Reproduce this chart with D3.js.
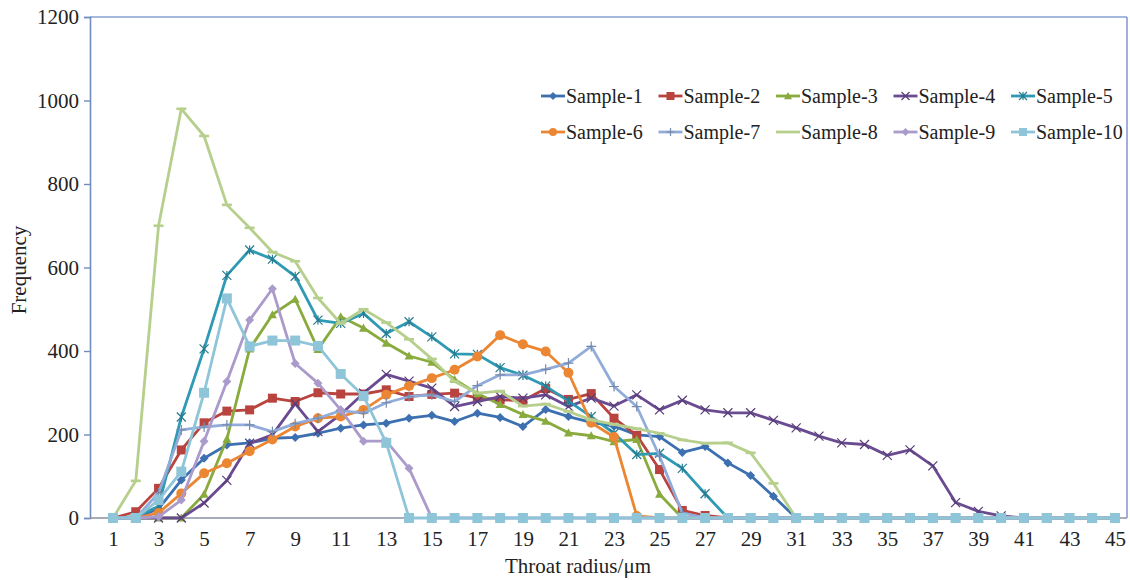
<!DOCTYPE html>
<html>
<head>
<meta charset="utf-8">
<script src="https://cdn.jsdelivr.net/npm/d3@7"></script>
<style>
  html, body { margin: 0; padding: 0; background: #fff; }
  svg text { font-family: "Liberation Serif", "Times New Roman", serif; fill: #222; }
</style>
</head>
<body>
<svg id="chart" width="1130" height="580"></svg>
<script>
// Throat radius categories (µm)
const radii = d3.range(1, 46);
const xTickLabels = d3.range(1, 46, 2);
const yTicks = [0, 200, 400, 600, 800, 1000, 1200];

const seriesNames = ["Sample-1", "Sample-2", "Sample-3", "Sample-4", "Sample-5",
                     "Sample-6", "Sample-7", "Sample-8", "Sample-9", "Sample-10"];

// Frequency per throat radius, 1..45 µm
const sample1 = [0, 0, 22, 91, 143, 175, 180, 191, 193, 203, 215, 223, 227, 239, 246, 231, 251, 241, 219, 260, 243, 229, 220, 199, 195, 157, 171, 132, 102, 52, 0, 0, 0, 0, 0, 0, 0, 0, 0, 0, 0, 0, 0, 0, 0];
const sample2 = [0, 15, 71, 163, 228, 256, 259, 287, 279, 300, 297, 297, 307, 291, 296, 299, 288, 283, 281, 310, 284, 298, 239, 198, 116, 18, 6, 0, 0, 0, 0, 0, 0, 0, 0, 0, 0, 0, 0, 0, 0, 0, 0, 0, 0];
const sample3 = [0, 0, 0, 0, 57, 189, 405, 487, 524, 404, 482, 455, 419, 388, 373, 332, 298, 272, 248, 232, 204, 197, 183, 188, 57, 0, 0, 0, 0, 0, 0, 0, 0, 0, 0, 0, 0, 0, 0, 0, 0, 0, 0, 0, 0];
const sample4 = [0, 0, 0, 0, 36, 90, 179, 199, 274, 207, 248, 299, 344, 328, 311, 267, 279, 291, 287, 295, 267, 287, 268, 295, 259, 282, 259, 252, 252, 234, 216, 196, 180, 176, 150, 163, 125, 37, 16, 5, 0, 0, 0, 0, 0];
const sample5 = [0, 3, 28, 242, 405, 581, 642, 620, 579, 474, 466, 490, 442, 470, 434, 393, 392, 360, 342, 316, 280, 243, 203, 152, 155, 119, 58, 0, 0, 0, 0, 0, 0, 0, 0, 0, 0, 0, 0, 0, 0, 0, 0, 0, 0];
const sample6 = [0, 0, 12, 59, 107, 131, 160, 188, 219, 239, 243, 259, 295, 316, 335, 355, 387, 438, 416, 399, 348, 228, 194, 5, 0, 0, 0, 0, 0, 0, 0, 0, 0, 0, 0, 0, 0, 0, 0, 0, 0, 0, 0, 0, 0];
const sample7 = [0, 0, 60, 211, 218, 223, 223, 207, 226, 239, 257, 251, 276, 291, 295, 279, 317, 343, 343, 356, 371, 411, 315, 267, 148, 12, 0, 0, 0, 0, 0, 0, 0, 0, 0, 0, 0, 0, 0, 0, 0, 0, 0, 0, 0];
const sample8 = [0, 89, 700, 980, 915, 750, 695, 637, 615, 527, 466, 500, 468, 428, 381, 327, 299, 304, 268, 273, 255, 235, 224, 214, 203, 187, 179, 180, 156, 83, 0, 0, 0, 0, 0, 0, 0, 0, 0, 0, 0, 0, 0, 0, 0];
const sample9 = [0, 0, 3, 43, 184, 327, 474, 549, 370, 323, 259, 184, 184, 119, 0, 0, 0, 0, 0, 0, 0, 0, 0, 0, 0, 0, 0, 0, 0, 0, 0, 0, 0, 0, 0, 0, 0, 0, 0, 0, 0, 0, 0, 0, 0];
const sample10 = [0, 0, 43, 111, 300, 526, 411, 425, 425, 412, 345, 292, 180, 0, 0, 0, 0, 0, 0, 0, 0, 0, 0, 0, 0, 0, 0, 0, 0, 0, 0, 0, 0, 0, 0, 0, 0, 0, 0, 0, 0, 0, 0, 0, 0];

const seriesValues = [sample1, sample2, sample3, sample4, sample5,
                      sample6, sample7, sample8, sample9, sample10];

const colors = ["#3d70b0", "#b8433f", "#89ab3e", "#6a4b91", "#2f9ab3",
                "#eb8633", "#92acd9", "#b6cf8c", "#aa9bcb", "#8fc5d9"];
const markers = ["diamond", "square", "triangle", "x", "star",
                 "circle", "plus", "dash", "diamond", "square"];

const W = 1130, H = 580;
const plot = { left: 90, right: 1127, top: 17, bottom: 518 };

const svg = d3.select("#chart");

const x = d3.scalePoint().domain(radii).range([113, 1115]);
const y = d3.scaleLinear().domain([0, 1200]).range([plot.bottom, plot.top]);

// Plot frame: top and right edges
svg.append("line").attr("x1", plot.left).attr("x2", plot.right)
  .attr("y1", plot.top).attr("y2", plot.top)
  .attr("stroke", "#86a2d2").attr("stroke-width", 1.6);
svg.append("line").attr("x1", plot.right).attr("x2", plot.right)
  .attr("y1", plot.top).attr("y2", plot.bottom)
  .attr("stroke", "#8c99d6").attr("stroke-width", 1.6);

// Y axis
const yAxis = d3.axisLeft(y).tickValues(yTicks).tickSize(6).tickPadding(5)
  .tickFormat(d3.format("d"));
const gy = svg.append("g").attr("transform", `translate(${plot.left},0)`).call(yAxis);
gy.select(".domain").attr("stroke", "#6f8ebf").attr("stroke-width", 1.6);
gy.selectAll(".tick line").attr("stroke", "#6f8ebf").attr("stroke-width", 1.4);
gy.selectAll(".tick text").style("font-size", "21px")
  .style("font-family", "'Liberation Serif', 'Times New Roman', serif").attr("fill", "#222");

// X axis
const xAxis = d3.axisBottom(x).tickValues(xTickLabels).tickSize(0).tickPadding(13);
const gx = svg.append("g").attr("transform", `translate(0,${plot.bottom})`).call(xAxis);
gx.select(".domain").remove();
gx.append("line").attr("x1", plot.left).attr("x2", plot.right)
  .attr("stroke", "#8a90a0").attr("stroke-width", 1.4);
gx.selectAll(".tick text").style("font-size", "21px")
  .style("font-family", "'Liberation Serif', 'Times New Roman', serif").attr("fill", "#222");

// Axis titles
svg.append("text").attr("x", 578).attr("y", 573).attr("text-anchor", "middle")
  .style("font-size", "21px").text("Throat radius/μm");
svg.append("text").attr("transform", "translate(26,270) rotate(-90)")
  .attr("text-anchor", "middle").style("font-size", "21px").text("Frequency");

// Marker shapes
function markerPath(kind, s) {
  const h = s / 2;
  switch (kind) {
    case "diamond": return `M0,${-h}L${h},0L0,${h}L${-h},0Z`;
    case "square": return `M${-h},${-h}H${h}V${h}H${-h}Z`;
    case "triangle": return `M0,${-h}L${h},${h * 0.8}L${-h},${h * 0.8}Z`;
    case "circle": return d3.symbol(d3.symbolCircle, s * s * 0.78)();
    case "x": return `M${-h},${-h}L${h},${h}M${-h},${h}L${h},${-h}`;
    case "star": return `M${-h},${-h}L${h},${h}M${-h},${h}L${h},${-h}M0,${-h}V${h}`;
    case "plus": return `M${-h},0H${h}M0,${-h}V${h}`;
    case "dash": return `M${-h},0H${h}`;
  }
}
const filled = { diamond: true, square: true, triangle: true, circle: true };
const markerSize = { diamond: 9, square: 9, triangle: 9, circle: 10, x: 9, star: 9, plus: 10, dash: 10 };

const line = d3.line().x((d, i) => x(radii[i])).y(d => y(d));

seriesValues.forEach((vals, si) => {
  const g = svg.append("g").attr("class", "series");
  g.append("path").datum(vals).attr("d", line)
    .attr("fill", "none").attr("stroke", colors[si])
    .attr("stroke-width", 2.8).attr("stroke-linejoin", "round");
  const kind = markers[si];
  const size = (si === 9) ? 10 : markerSize[kind];
  g.selectAll("path.m").data(vals).join("path").attr("class", "m")
    .attr("transform", (d, i) => `translate(${x(radii[i])},${y(d)})`)
    .attr("d", markerPath(kind, size))
    .attr("fill", filled[kind] ? colors[si] : "none")
    .attr("stroke", filled[kind] ? "none" : (kind === "dash" ? colors[si] : d3.color(colors[si]).darker(0.6)))
    .attr("stroke-width", kind === "dash" ? 2.6 : 1.2);
});

// Legend, two rows of five
const legend = svg.append("g");
seriesNames.forEach((name, i) => {
  const col = i % 5, row = Math.floor(i / 5);
  const lx = 541 + col * 117.5, ly = 96 + row * 36;
  const g = legend.append("g").attr("transform", `translate(${lx},${ly})`);
  g.append("line").attr("x1", 0).attr("x2", 24).attr("y1", 0).attr("y2", 0)
    .attr("stroke", colors[i]).attr("stroke-width", 2.8);
  const kind = markers[i];
  if (kind !== "dash") {
    g.append("path").attr("transform", "translate(12,0)")
      .attr("d", markerPath(kind, 8))
      .attr("fill", filled[kind] ? colors[i] : "none")
      .attr("stroke", filled[kind] ? "none" : d3.color(colors[i]).darker(0.6))
      .attr("stroke-width", 1.2);
  }
  g.append("text").attr("x", 25).attr("y", 7).style("font-size", "20px").text(name);
});
</script>
</body>
</html>
